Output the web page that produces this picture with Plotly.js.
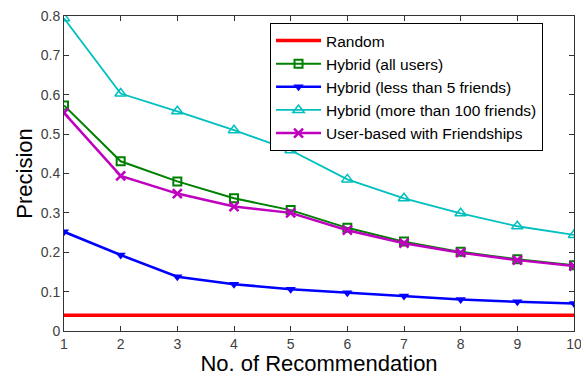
<!DOCTYPE html>
<html><head><meta charset="utf-8">
<script src="https://cdn.plot.ly/plotly-3.0.1.min.js"></script>
<style>html,body{margin:0;padding:0;background:#fff}#chart{width:581px;height:376px}</style>
</head><body><div id="chart"></div>
<script>
const xVals = [1,2,3,4,5,6,7,8,9,10];
const randomVals = [0.04,0.04,0.04,0.04,0.04,0.04,0.04,0.04,0.04,0.04];
const hybridAll = [0.573,0.431,0.380,0.337,0.307,0.262,0.227,0.201,0.182,0.167];
const hybridLess5 = [0.252,0.193,0.138,0.119,0.106,0.097,0.089,0.080,0.074,0.070];
const hybridMore100 = [0.794,0.603,0.558,0.510,0.459,0.385,0.337,0.299,0.266,0.244];
const userBased = [0.554,0.394,0.349,0.316,0.300,0.256,0.223,0.199,0.180,0.165];
const seriesNames = ["Random","Hybrid (all users)","Hybrid (less than 5 friends)","Hybrid (more than 100 friends)","User-based with Friendships"];

const traces = [
 {x:xVals,y:randomVals,name:seriesNames[0],mode:'lines',line:{color:'#ff0000',width:3.5}},
 {x:xVals,y:hybridAll,name:seriesNames[1],mode:'lines+markers',line:{color:'#008000',width:2},
  marker:{symbol:'square-open',size:8,color:'#008000',line:{width:2}}},
 {x:xVals,y:hybridLess5,name:seriesNames[2],mode:'lines+markers',line:{color:'#0000ff',width:2.5},
  marker:{symbol:'triangle-down',size:9,color:'#0000ff'}},
 {x:xVals,y:hybridMore100,name:seriesNames[3],mode:'lines+markers',line:{color:'#00bfbf',width:1.8},
  marker:{symbol:'triangle-up-open',size:10,color:'#00bfbf',line:{width:1.5}}},
 {x:xVals,y:userBased,name:seriesNames[4],mode:'lines+markers',line:{color:'#bf00bf',width:2.5},
  marker:{symbol:'x-thin-open',size:9,color:'#bf00bf',line:{width:2.5,color:'#bf00bf'}}}
];
const layout = {
 width:581,height:376,
 margin:{l:64,r:7,t:16,b:45},
 paper_bgcolor:'#fff',plot_bgcolor:'#fff',
 font:{family:'Liberation Sans, Arial, sans-serif',color:'#000'},
 showlegend:true,
 legend:{x:0.404,y:0.978,xanchor:'left',yanchor:'top',bordercolor:'#000',borderwidth:1,bgcolor:'#fff',
   font:{size:15.5,color:'#000'},itemwidth:45,tracegroupgap:0},
 xaxis:{range:[1,10],tickvals:xVals,ticktext:xVals.map(String),ticks:'inside',ticklen:5,tickcolor:'#333',
   showline:true,linecolor:'#333',linewidth:1,mirror:'ticks',showgrid:false,zeroline:false,
   ticklabeloverflow:'allow',
   tickfont:{size:14,color:'#404040'},
   title:{text:'No. of Recommendation',font:{size:22,color:'#000'},standoff:4}},
 yaxis:{range:[0,0.8],dtick:0.1,tick0:0,ticks:'inside',ticklen:5,tickcolor:'#333',
   showline:true,linecolor:'#333',linewidth:1,mirror:'ticks',showgrid:false,zeroline:false,
   ticklabeloverflow:'allow',
   tickfont:{size:14,color:'#404040'},tickformat:'.1~f',
   title:{text:'Precision',font:{size:22,color:'#000'},standoff:2}}
};
Plotly.newPlot('chart',traces,layout,{displayModeBar:false,staticPlot:true});
</script></body></html>
